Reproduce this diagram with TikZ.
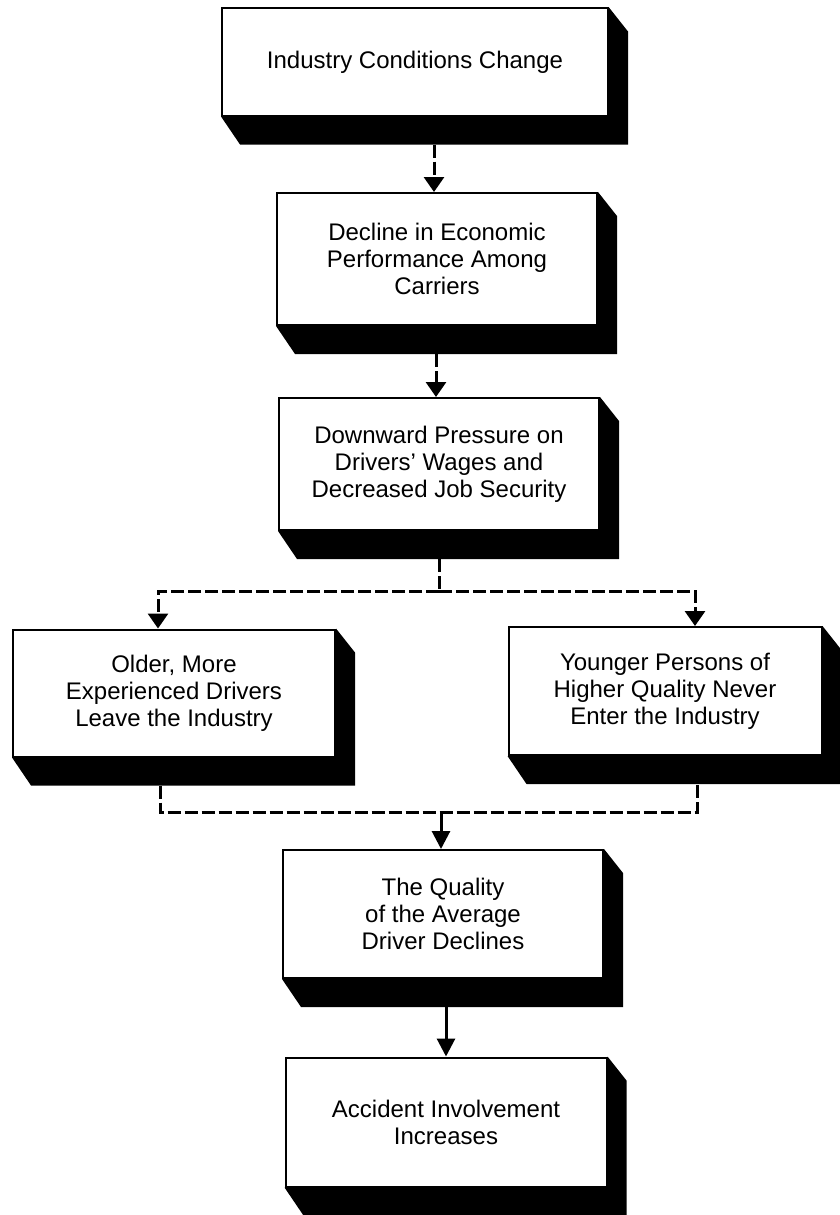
\documentclass[tikz,border=0pt]{standalone}
\usepackage{fontspec}
\setmainfont{Liberation Sans}
\usetikzlibrary{arrows.meta,calc,backgrounds}
% solid extrusion below and to the right of a box
\newcommand\castshadow[1]{%
  \fill (#1.south west) -- ($(#1.south west)+(19,28)$) -- ($(#1.south east)+(19,28)$)
        -- ($(#1.north east)+(19,24)$) -- (#1.north east) -- (#1.south east) -- cycle;}
\begin{document}
\begin{tikzpicture}[x=1pt,y=-1pt,
  box/.style={draw,line width=2pt,fill=white,inner sep=0pt,align=center,
    font=\fontsize{24}{27}\selectfont},
  dline/.style={line width=3pt,dash pattern=on 13pt off 4pt},
  dconn/.style={dline,-{Triangle[width=20pt,length=15pt]}},
  sconn/.style={line width=3pt,-{Triangle[width=18pt,length=18pt]}}]

\useasboundingbox (0,0) rectangle (840,1215);

\node[box,minimum width=386pt,minimum height=107pt] (b1) at (415,62)
  {Industry Conditions Change};
\node[box,minimum width=320pt,minimum height=132pt] (b2) at (437,259)
  {Decline in Economic\\Performance Among\\Carriers};
\node[box,minimum width=320pt,minimum height=132pt] (b3) at (439,464)
  {Downward Pressure on\\Drivers' Wages and\\Decreased Job Security};
\node[box,minimum width=322pt,minimum height=127pt] (lt) at (174,693)
  {Older, More\\Experienced Drivers\\Leave the Industry};
\node[box,minimum width=313pt,minimum height=128pt] (rt) at (665,691)
  {Younger Persons of\\Higher Quality Never\\Enter the Industry};
\node[box,minimum width=320pt,minimum height=128pt] (b6) at (443,914)
  {The Quality\\of the Average\\Driver Declines};
\node[box,minimum width=321pt,minimum height=129pt] (b7) at (446,1122)
  {Accident Involvement\\Increases};

\begin{scope}[on background layer]
  \fill[white] (0,0) rectangle (840,1215);
  \castshadow{b1}
  \castshadow{b2}
  \castshadow{b3}
  \castshadow{lt}
  \castshadow{rt}
  \castshadow{b6}
  \castshadow{b7}
\end{scope}

% shadow bottoms and junction points
\coordinate (s1) at ($(b1.south)+(0,28)$);
\coordinate (s2) at ($(b2.south)+(0,28)$);
\coordinate (s3) at ($(b3.south)+(0,28)$);
\coordinate (split) at ($(b3.south)+(0,60)$);
\coordinate (merge) at ($(b6.north)+(-2,-37)$);
\coordinate (s6) at ($(b6.south)+(0,28)$);

\draw[dconn] ([xshift=-3pt]b2.north |- s1) -- ([xshift=-3pt]b2.north);
\draw[dconn] ([xshift=-3pt]b3.north |- s2) -- ([xshift=-3pt]b3.north);

\draw[dline] (s3) -- (split);
\draw[dconn] (split) -| ([xshift=-16pt]lt.north);
\draw[dconn] (split) -| ([xshift=30pt]rt.north);

\draw[dline] ($(lt.south)+(-14,28)$) |- (merge) -| ($(rt.south)+(32,28)$);
\draw[sconn] (merge) -- ([xshift=-2pt]b6.north);
\draw[sconn] (b7.north |- s6) -- (b7.north);
\end{tikzpicture}
\end{document}
